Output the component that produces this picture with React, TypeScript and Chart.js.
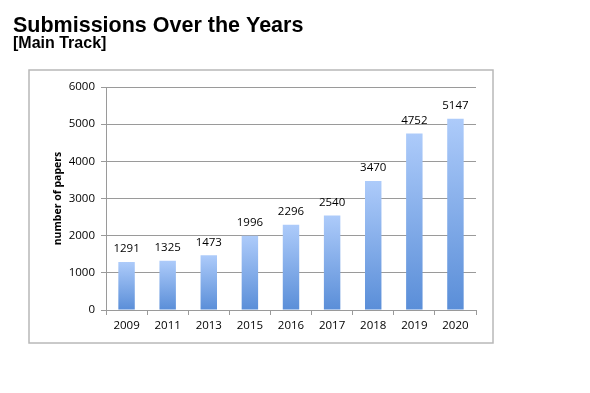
import React, { useEffect, useRef } from "react";
import { Chart, registerables } from "chart.js";

Chart.register(...registerables);

const years = ["2009", "2011", "2013", "2015", "2016", "2017", "2018", "2019", "2020"];
const papers = [1291, 1325, 1473, 1996, 2296, 2540, 3470, 4752, 5147];
const yTicks = [0, 1000, 2000, 3000, 4000, 5000, 6000];
const titleText = "Submissions Over the Years";
const subtitleText = "[Main Track]";
const yAxisTitle = "number of papers";

const W = 590;
const H = 393;
const FONT = "'Open Sans', 'Liberation Sans', sans-serif";

const decorPlugin = {
  id: "decor",
  beforeDraw(chart: any) {
    const ctx = chart.ctx;
    ctx.save();
    ctx.fillStyle = "#ffffff";
    ctx.fillRect(0, 0, W, H);
    ctx.strokeStyle = "#b8b8b8";
    ctx.lineWidth = 1.5;
    ctx.strokeRect(29, 70, 464, 273);
    ctx.fillStyle = "#000";
    ctx.textBaseline = "alphabetic";
    ctx.textAlign = "left";
    ctx.font = "bold 21.5px 'Liberation Sans', Arial, sans-serif";
    ctx.fillText(titleText, 13, 32);
    ctx.font = "bold 16px 'Liberation Sans', Arial, sans-serif";
    ctx.fillText(subtitleText, 13, 48);
    const area = chart.chartArea;
    ctx.translate(58, (area.top + area.bottom) / 2);
    ctx.rotate(-Math.PI / 2);
    ctx.textAlign = "center";
    ctx.textBaseline = "middle";
    ctx.font = "bold 10.5px " + FONT;
    ctx.fillText(yAxisTitle, 0, 0);
    ctx.restore();
  },
  afterDatasetsDraw(chart: any) {
    const ctx = chart.ctx;
    const meta = chart.getDatasetMeta(0);
    ctx.save();
    ctx.fillStyle = "#000";
    ctx.font = "11.5px " + FONT;
    ctx.textAlign = "center";
    ctx.textBaseline = "middle";
    meta.data.forEach((el: any, i: number) => {
      ctx.fillText(String(papers[i]), el.x, el.y - 13);
    });
    ctx.restore();
  },
};

export default function App() {
  const ref = useRef<HTMLCanvasElement>(null);
  useEffect(() => {
    if (!ref.current) return;
    const chart = new Chart(ref.current, {
      type: "bar",
      data: {
        labels: years,
        datasets: [
          {
            data: papers,
            barPercentage: 0.4,
            categoryPercentage: 1.0,
            borderWidth: 0,
            backgroundColor: (c: any) => {
              const chartObj = c.chart;
              const ys = chartObj.scales && chartObj.scales.y;
              if (!ys || c.raw == null) return "#7fa8e6";
              const top = ys.getPixelForValue(c.raw);
              const bottom = ys.getPixelForValue(0);
              if (!isFinite(top) || !isFinite(bottom) || top === bottom) return "#7fa8e6";
              const g = chartObj.ctx.createLinearGradient(0, top, 0, bottom);
              g.addColorStop(0, "#adcbfa");
              g.addColorStop(1, "#5a8ed8");
              return g;
            },
          },
        ],
      },
      options: {
        responsive: false,
        animation: false,
        devicePixelRatio: 1,
        layout: { padding: { left: 28, top: 87, right: 114, bottom: 40 } },
        plugins: { legend: { display: false }, tooltip: { enabled: false }, title: { display: false } },
        scales: {
          x: {
            grid: { offset: true, drawOnChartArea: false, drawTicks: true, tickLength: 5, color: "#9a9a9a" },
            border: { color: "#9a9a9a" },
            ticks: { color: "#000", font: { family: FONT, size: 11.5 }, padding: 4, maxRotation: 0 },
            afterFit: (s: any) => {
              s.height = 43;
            },
          },
          y: {
            min: 0,
            max: 6000,
            afterBuildTicks: (s: any) => {
              s.ticks = yTicks.map((v) => ({ value: v }));
            },
            grid: { color: "#9a9a9a", tickLength: 5 },
            border: { color: "#9a9a9a" },
            ticks: {
              color: "#000",
              font: { family: FONT, size: 11.5 },
              padding: 6,
              callback: (v: any) => String(v),
            },
            afterFit: (s: any) => {
              s.width = 78;
            },
          },
        },
      },
      plugins: [decorPlugin],
    });
    return () => chart.destroy();
  }, []);
  return (
    <div style={{ position: "fixed", left: 0, top: 0, width: W, height: H, background: "#fff" }}>
      <canvas ref={ref} width={W} height={H} style={{ width: W, height: H, display: "block" }} />
    </div>
  );
}
